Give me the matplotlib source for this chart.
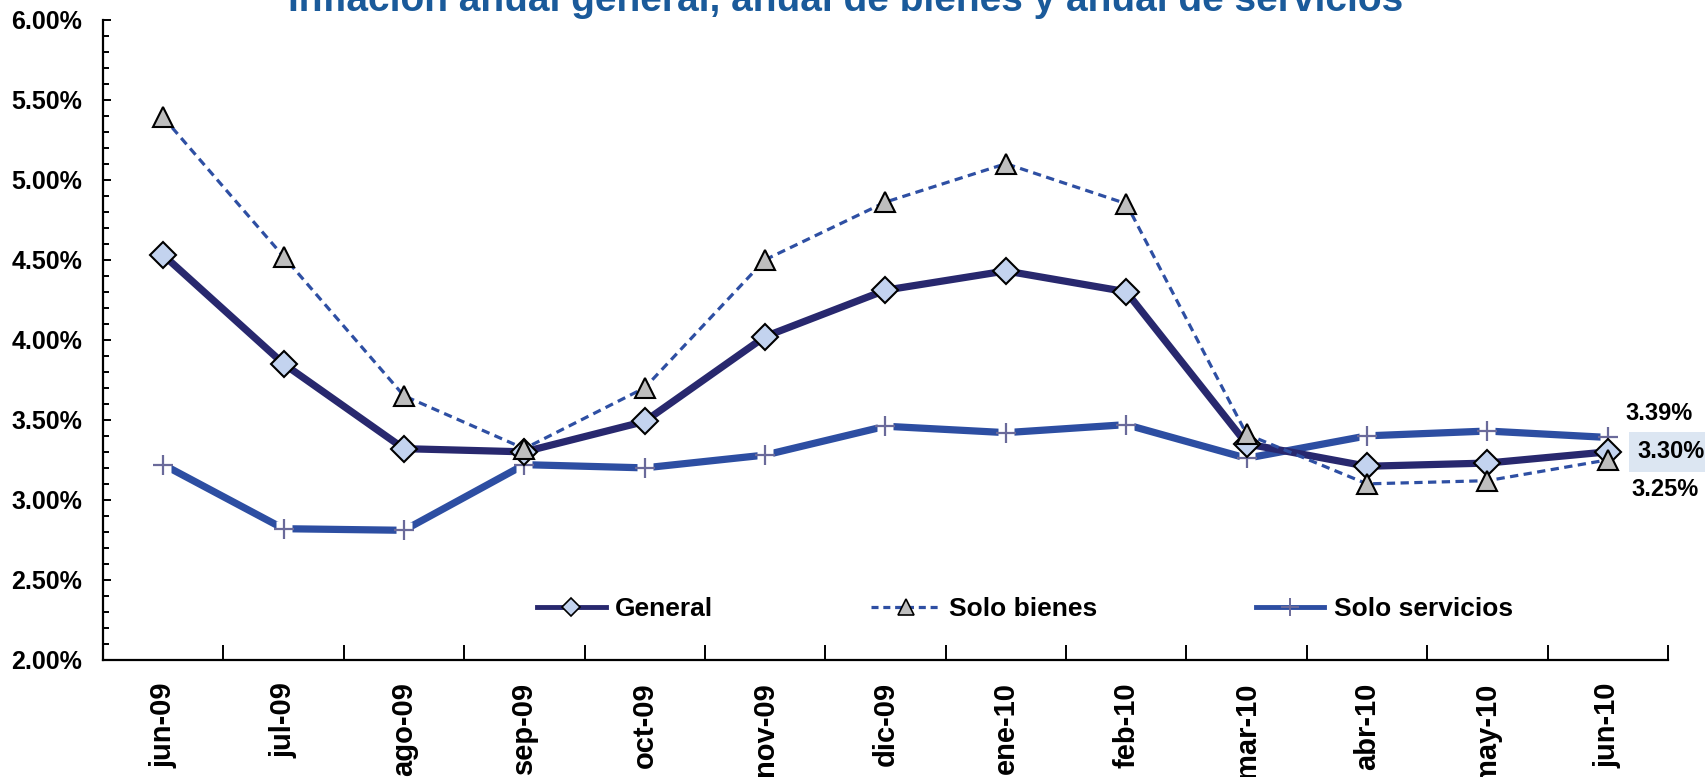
import matplotlib

matplotlib.use("Agg")
from matplotlib import pyplot as plt
from matplotlib.lines import Line2D
from matplotlib.ticker import FixedLocator, MultipleLocator, FuncFormatter

months = ["jun-09", "jul-09", "ago-09", "sep-09", "oct-09", "nov-09", "dic-09",
          "ene-10", "feb-10", "mar-10", "abr-10", "may-10", "jun-10"]
general = [4.53, 3.85, 3.32, 3.30, 3.49, 4.02, 4.31, 4.43, 4.30, 3.35, 3.21, 3.23, 3.30]
bienes = [5.39, 4.52, 3.65, 3.32, 3.70, 4.50, 4.86, 5.10, 4.85, 3.41, 3.10, 3.12, 3.25]
servicios = [3.22, 2.82, 2.81, 3.22, 3.20, 3.28, 3.46, 3.42, 3.47, 3.26, 3.40, 3.43, 3.39]

title = "Inflación anual general, anual de bienes y anual de servicios"

plt.rcParams["font.family"] = ["Liberation Sans", "DejaVu Sans"]
plt.rcParams["font.weight"] = "bold"

C_GEN = "#28286E"
C_BIE = "#2E4FA3"
C_SER = "#2D4EA2"
C_PLUS = "#6A6A9A"

fig = plt.figure(figsize=(17.05, 7.77), dpi=100)
ax = fig.add_axes([0.0604, 0.1506, 0.9179, 0.8242])

x = list(range(len(months)))

# servicios first: white squares open the line around the + markers
ax.plot(x, servicios, color=C_SER, linewidth=5.2, zorder=2, solid_capstyle="butt")
ax.plot(x, servicios, linestyle="none", marker="s", markersize=11,
        markerfacecolor="white", markeredgecolor="none", zorder=2.1)
ax.plot(x, servicios, linestyle="none", marker="+", markersize=15,
        markeredgewidth=1.6, color=C_PLUS, zorder=2.2)

ax.plot(x, general, color=C_GEN, linewidth=5.2, marker="D", markersize=13,
        markerfacecolor="#C3D3EF", markeredgecolor="black", markeredgewidth=1.5, zorder=3)

ax.plot(x, bienes, color=C_BIE, linewidth=2.3, linestyle=(0, (2.6, 1.7)), marker="^",
        markersize=15, markerfacecolor="#BEBEBE", markeredgecolor="black",
        markeredgewidth=1.5, zorder=4)

ax.set_xlim(-0.5, len(months) - 0.5)
ax.set_ylim(2.0, 6.0)

ax.spines["top"].set_visible(False)
ax.spines["right"].set_visible(False)
ax.spines["left"].set_linewidth(1.6)
ax.spines["bottom"].set_linewidth(1.6)

ax.yaxis.set_major_locator(MultipleLocator(0.5))
ax.yaxis.set_minor_locator(MultipleLocator(0.1))
ax.yaxis.set_major_formatter(FuncFormatter(lambda v, p: f"{v:.2f}%"))
ax.tick_params(axis="y", which="major", direction="in", length=6, width=1.4,
               labelsize=18, pad=15)
ax.tick_params(axis="y", which="minor", direction="in", length=4, width=1.4)

# x: ticks on the category boundaries, labels at the centres
ax.xaxis.set_major_locator(FixedLocator([i + 0.5 for i in x]))
ax.xaxis.set_minor_locator(FixedLocator(x))
ax.set_xticklabels([], minor=False)
ax.set_xticklabels(months, minor=True, rotation=90, fontsize=21, fontweight="bold")
ax.tick_params(axis="x", which="major", direction="in", length=11, width=1.4)
ax.tick_params(axis="x", which="minor", length=0, pad=16)

for lab in ax.get_yticklabels():
    lab.set_fontweight("bold")

handles = [
    Line2D([], [], color=C_GEN, linewidth=3.5, marker="D", markersize=9,
           markerfacecolor="#C3D3EF", markeredgecolor="black", markeredgewidth=1.2),
    Line2D([], [], color=C_BIE, linewidth=2.3, linestyle=(0, (2.2, 1.5)), marker="^",
           markersize=11, markerfacecolor="#BEBEBE", markeredgecolor="black",
           markeredgewidth=1.2),
    Line2D([], [], color=C_SER, linewidth=3.5, marker="+", markersize=13,
           markeredgecolor=C_PLUS, markeredgewidth=1.4),
]
ax.legend(handles, ["General", "Solo bienes", "Solo servicios"], ncol=3,
          loc="center", bbox_to_anchor=(0.589, 0.08), frameon=False,
          prop={"size": 19, "weight": "bold"}, handlelength=2.6,
          columnspacing=6.0, handletextpad=0.35)

# end labels
last = len(months) - 1
ax.annotate(f"{servicios[last]:.2f}%", xy=(last, servicios[last]), xytext=(13, 17),
            textcoords="offset points", ha="left", va="center", fontsize=17,
            fontweight="bold", annotation_clip=False)
ax.annotate(f"{general[last]:.2f}%", xy=(last, general[last]), xytext=(21, 0),
            textcoords="offset points", ha="left", va="center", fontsize=17,
            fontweight="bold", annotation_clip=False,
            bbox=dict(boxstyle="square,pad=0.35", facecolor="#DCE6F2", edgecolor="none"))
ax.annotate(f"{bienes[last]:.2f}%", xy=(last, bienes[last]), xytext=(17, -21),
            textcoords="offset points", ha="left", va="center", fontsize=17,
            fontweight="bold", annotation_clip=False)

fig.text(0.496, 0.986, title, ha="center", va="baseline", fontsize=28,
         fontweight="bold", color="#1A5A9A")

fig.savefig("out.png", dpi=100)
plt.close(fig)
